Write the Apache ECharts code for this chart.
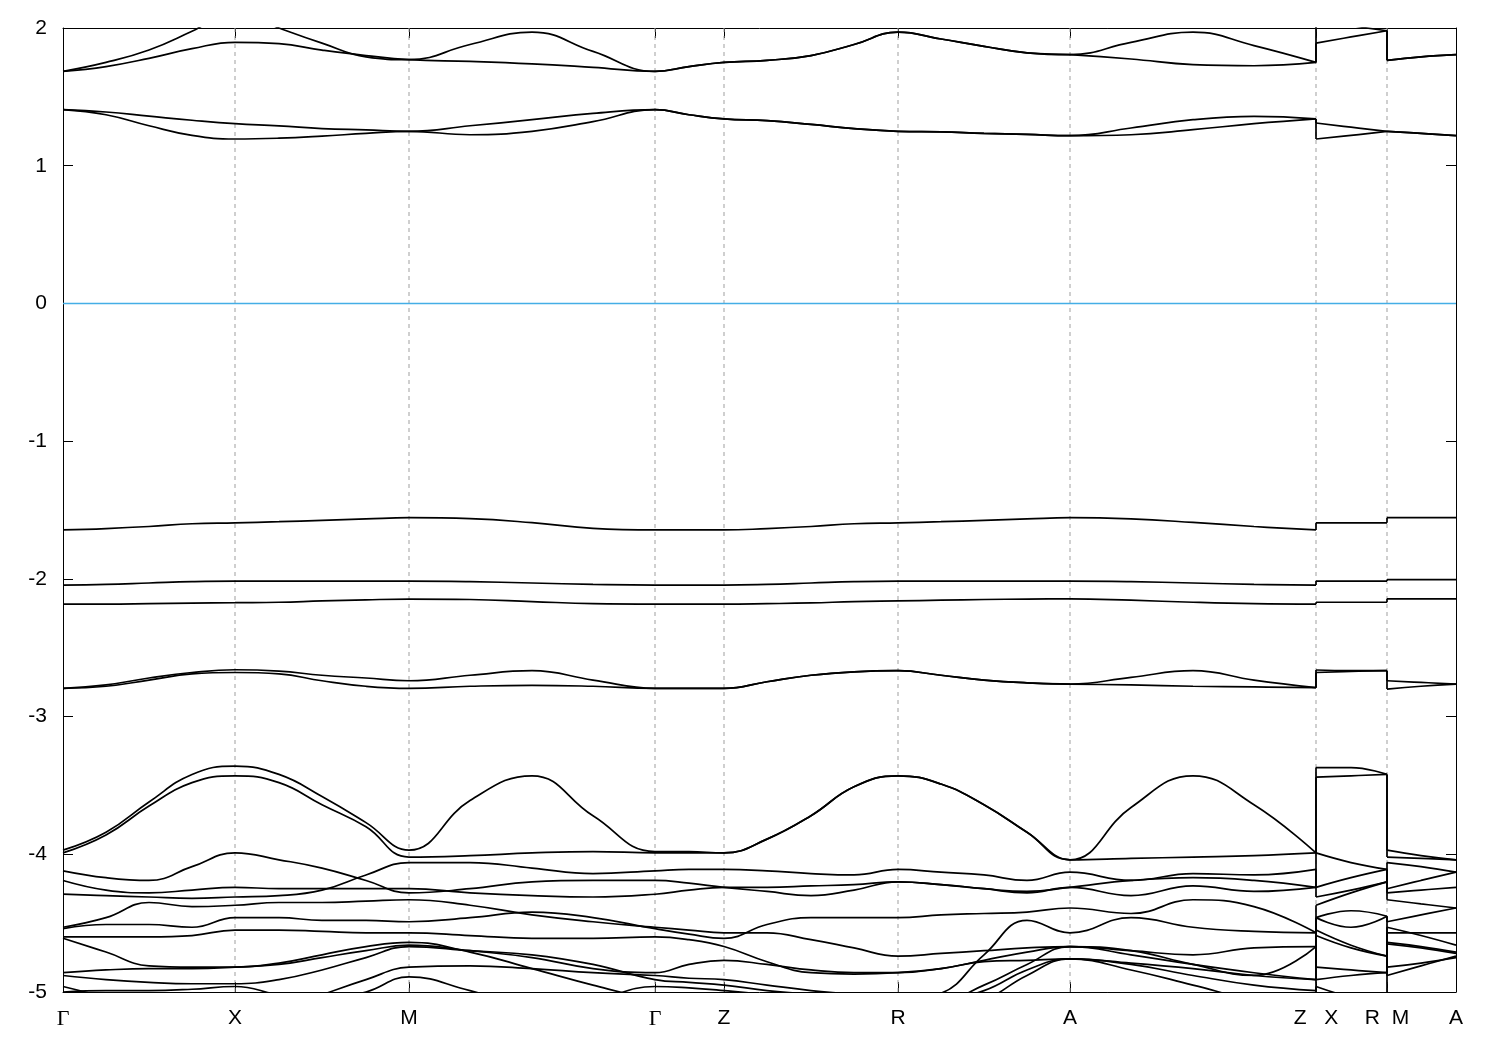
<!DOCTYPE html>
<html><head><meta charset="utf-8">
<script src="https://cdn.jsdelivr.net/npm/echarts@6/dist/echarts.min.js"></script>
<style>html,body{margin:0;padding:0;background:#fff}#chart{width:1500px;height:1050px}</style>
</head><body><div id="chart"></div>
<script>
// k-path coordinate of every sampled node (duplicates = path discontinuities Z|X and R|M)
const kNodes = [0,43,86,129,172,216,259,303,346,407,469,530,592,626,661,704,748,791,835,878,921,964,1007,1068,1130,1191,1253,1253,1288,1324,1324,1358,1393];
const tickK = [0,172,346,592,661,835,1007,1253,1324,1393];
const tickLabels = ['Γ','X','M','Γ','Z','R','A','Z   X','R  M','A'];
const energyRange = [-5, 2];
const fermiLevel = 0;

// conduction bands
const bandC4 = [1.685,1.75,1.84,1.976,2.12, 2.0,1.89,1.79,1.77, 1.88,1.97,1.83,1.685, 1.72,1.75, 1.765,1.80,1.88,1.97, 1.92,1.867,1.82,1.806, 1.896,1.97,1.872,1.75, 2.08,2.02,1.98, 1.765,1.79,1.806];
const bandC3 = [1.685,1.72,1.78,1.85,1.896, 1.886,1.84,1.80,1.77, 1.758,1.74,1.714,1.685, 1.72,1.75, 1.765,1.80,1.88,1.97, 1.92,1.867,1.82,1.806, 1.775,1.734,1.726,1.75, 1.89,1.935,1.98, 1.765,1.79,1.806];
const bandC2 = [1.407,1.39,1.36,1.33,1.305, 1.29,1.27,1.26,1.25, 1.29,1.334,1.38,1.407, 1.37,1.34, 1.327,1.30,1.27,1.25, 1.245,1.235,1.228,1.218, 1.274,1.334,1.358,1.34, 1.31,1.28,1.25, 1.25,1.235,1.218];
const bandC1 = [1.407,1.37,1.29,1.22,1.194, 1.20,1.215,1.235,1.25, 1.225,1.25,1.32,1.407, 1.37,1.34, 1.327,1.30,1.27,1.25, 1.245,1.235,1.228,1.218, 1.225,1.262,1.305,1.34, 1.194,1.22,1.25, 1.25,1.235,1.218];
// flat valence bands
const bandM1 = [-1.645,-1.635,-1.62,-1.60,-1.593, -1.585,-1.575,-1.565,-1.556, -1.563,-1.592,-1.633,-1.645, -1.645,-1.645, -1.635,-1.62,-1.60,-1.593, -1.585,-1.575,-1.565,-1.556, -1.565,-1.59,-1.62,-1.645, -1.593,-1.593,-1.593, -1.556,-1.556,-1.556];
const bandM2 = [-2.045,-2.04,-2.03,-2.02,-2.016, -2.016,-2.016,-2.016,-2.016, -2.02,-2.03,-2.04,-2.045, -2.045,-2.045, -2.04,-2.03,-2.02,-2.016, -2.016,-2.016,-2.016,-2.016, -2.02,-2.03,-2.04,-2.045, -2.016,-2.016,-2.016, -2.005,-2.005,-2.005];
const bandM3 = [-2.183,-2.183,-2.18,-2.176,-2.173, -2.17,-2.16,-2.152,-2.147, -2.15,-2.165,-2.18,-2.183, -2.183,-2.183, -2.18,-2.175,-2.165,-2.16, -2.155,-2.15,-2.147,-2.145, -2.155,-2.17,-2.18,-2.183, -2.17,-2.17,-2.17, -2.145,-2.145,-2.145];
const bandM5 = [-2.795,-2.77,-2.72,-2.68,-2.66, -2.67,-2.70,-2.72,-2.74, -2.70,-2.667,-2.735,-2.795, -2.795,-2.795, -2.747,-2.70,-2.675,-2.667, -2.70,-2.735,-2.755,-2.764, -2.715,-2.667,-2.735,-2.79, -2.662,-2.667,-2.667, -2.74,-2.752,-2.764];
const bandM4 = [-2.795,-2.78,-2.735,-2.69,-2.68, -2.69,-2.74,-2.78,-2.795, -2.78,-2.773,-2.78,-2.795, -2.795,-2.795, -2.747,-2.70,-2.675,-2.667, -2.70,-2.735,-2.755,-2.764, -2.77,-2.78,-2.785,-2.79, -2.68,-2.672,-2.667, -2.80,-2.78,-2.764];
// lower valence manifold
const bandV1 = [-3.97,-3.84,-3.62,-3.42,-3.36, -3.42,-3.58,-3.77,-3.97, -3.61,-3.43,-3.72,-3.98, -3.98,-3.99, -3.89,-3.72,-3.51,-3.43, -3.49,-3.64,-3.84,-4.04, -3.66,-3.43,-3.64,-3.99, -3.37,-3.37,-3.42, -3.97,-4.01,-4.04];
const bandV2 = [-3.99,-3.86,-3.65,-3.48,-3.43, -3.48,-3.64,-3.80,-4.02, -4.01,-3.99,-3.98,-3.99, -3.99,-3.99, -3.89,-3.72,-3.51,-3.43, -3.49,-3.64,-3.84,-4.04, -4.03,-4.02,-4.01,-3.99, -3.44,-3.43,-3.42, -4.02,-4.03,-4.04];
const bandV3 = [-4.12,-4.17,-4.19,-4.09,-3.99, -4.04,-4.10,-4.19,-4.28, -4.25,-4.20,-4.19,-4.19, -4.21,-4.24, -4.27,-4.30,-4.26,-4.20, -4.22,-4.25,-4.28,-4.24, -4.30,-4.23,-4.27,-4.24, -3.99,-4.06,-4.11, -4.25,-4.19,-4.13];
const bandV4 = [-4.19,-4.26,-4.28,-4.26,-4.24, -4.25,-4.25,-4.25,-4.25, -4.28,-4.30,-4.31,-4.29, -4.26,-4.24, -4.24,-4.23,-4.22,-4.20, -4.22,-4.25,-4.27,-4.24, -4.19,-4.17,-4.19,-4.24, -4.24,-4.17,-4.11, -4.28,-4.26,-4.24];
const bandV5 = [-4.29,-4.30,-4.31,-4.32,-4.31, -4.30,-4.26,-4.15,-4.06, -4.06,-4.10,-4.14,-4.12, -4.11,-4.11, -4.12,-4.14,-4.15,-4.11, -4.13,-4.15,-4.19,-4.13, -4.19,-4.14,-4.15,-4.11, -4.31,-4.26,-4.20, -4.06,-4.09,-4.13];
const bandV6 = [-4.53,-4.46,-4.35,-4.38,-4.37, -4.35,-4.35,-4.34,-4.33, -4.37,-4.44,-4.49,-4.53, -4.55,-4.57, -4.57,-4.62,-4.68,-4.74, -4.72,-4.70,-4.68,-4.67, -4.70,-4.73,-4.68,-4.67, -4.37,-4.28,-4.20, -4.33,-4.36,-4.39];
const bandV7 = [-4.54,-4.51,-4.51,-4.53,-4.46, -4.46,-4.48,-4.48,-4.49, -4.46,-4.42,-4.46,-4.54, -4.58,-4.61, -4.51,-4.46,-4.46,-4.46, -4.44,-4.43,-4.42,-4.39, -4.43,-4.33,-4.38,-4.57, -4.46,-4.41,-4.45, -4.49,-4.44,-4.39];
const bandV8 = [-4.60,-4.60,-4.60,-4.59,-4.55, -4.55,-4.56,-4.57,-4.57, -4.59,-4.61,-4.61,-4.60, -4.62,-4.67, -4.78,-4.86,-4.87,-4.86, -4.83,-4.78,-4.77,-4.76, -4.79,-4.83,-4.88,-4.91, -4.55,-4.66,-4.74, -4.53,-4.59,-4.66];
const bandV9 = [-4.61,-4.71,-4.81,-4.82,-4.82, -4.79,-4.73,-4.67,-4.64, -4.71,-4.83,-4.95,-5.06, -5.10,-5.13, -5.13,-5.12,-5.09,-5.06, -5.01,-4.73,-4.48,-4.57, -4.46,-4.53,-4.56,-4.57, -4.82,-4.84,-4.86, -4.57,-4.57,-4.57];
const bandV10 = [-4.86,-4.84,-4.83,-4.83,-4.82, -4.80,-4.75,-4.70,-4.66, -4.70,-4.75,-4.83,-4.86, -4.80,-4.77, -4.80,-4.84,-4.86,-4.86, -4.83,-4.77,-4.71,-4.67, -4.73,-4.80,-4.86,-4.91, -4.91,-4.88,-4.86, -4.64,-4.67,-4.71];
const bandV11 = [-4.88,-4.91,-4.93,-4.94,-4.94, -4.91,-4.84,-4.75,-4.67, -4.70,-4.73,-4.80,-4.91, -4.93,-4.95, -4.99,-5.02,-5.06,-5.09, -5.06,-4.99,-4.84,-4.76, -4.80,-4.88,-4.95,-4.99, -4.96,-5.04,-5.10, -4.65,-4.68,-4.72];
const bandV12 = [-4.96,-5.04,-5.13,-5.17,-5.20, -5.13,-5.02,-4.91,-4.82, -4.81,-4.83,-4.86,-4.88, -4.90,-4.91, -4.95,-4.99,-5.02,-5.06, -5.06,-4.95,-4.80,-4.67, -4.70,-4.80,-4.88,-4.67, -4.46,-4.53,-4.45, -4.82,-4.79,-4.75];
const bandV13 = [-5.00,-4.99,-4.99,-4.98,-4.96, -5.02,-5.06,-5.00,-4.89, -4.99,-5.10,-5.06,-4.96, -4.97,-4.99, -5.02,-5.06,-5.10,-5.13, -5.13,-5.06,-4.88,-4.76, -4.84,-4.95,-5.06,-5.13, -4.59,-4.68,-4.74, -4.88,-4.81,-4.74];

const bands = [bandC4,bandC3,bandC2,bandC1,bandM1,bandM2,bandM3,bandM5,bandM4,
  bandV1,bandV2,bandV3,bandV4,bandV5,bandV6,bandV7,bandV8,bandV9,bandV10,bandV11,bandV12,bandV13];

// continuous pieces of the path and the jumps between them
const pieces = [[0,26],[27,29],[30,32]];
const jumps = [[26,27],[29,30]];

const series = [];
// vertical dashed guides at the high-symmetry points
tickK.slice(1, -1).forEach(k => {
  series.push({type:'line', silent:true, showSymbol:false, z:1,
    data:[[k, energyRange[0]],[k, energyRange[1]]],
    lineStyle:{color:'#a0a0a0', width:1, type:[4,4]}});
});
// Fermi level
series.push({type:'line', silent:true, showSymbol:false, z:2,
  data:[[kNodes[0], fermiLevel],[kNodes[kNodes.length-1], fermiLevel]],
  lineStyle:{color:'#44aee6', width:1.4}});
bands.forEach(b => {
  pieces.forEach(([s,e]) => {
    series.push({type:'line', silent:true, showSymbol:false, z:3, clip:true,
      smooth:0.45,
      data: kNodes.slice(s, e+1).map((k,i) => [k, b[s+i]]),
      lineStyle:{color:'#000', width:1.7}});
  });
  jumps.forEach(([a,c]) => {
    series.push({type:'line', silent:true, showSymbol:false, z:3, clip:true,
      data:[[kNodes[a], b[a]],[kNodes[c], b[c]]],
      lineStyle:{color:'#000', width:1.7}});
  });
});

const labelFont = {fontFamily:'Liberation Sans, Arial, sans-serif', fontSize:21, color:'#000'};
const chart = echarts.init(document.getElementById('chart'), null, {renderer:'canvas'});
chart.setOption({
  animation:false,
  backgroundColor:'#fff',
  grid:{left:63, right:44, top:28, bottom:58, containLabel:false},
  xAxis:[{
    type:'value', min:kNodes[0], max:kNodes[kNodes.length-1], position:'bottom',
    axisLine:{show:true, onZero:false, lineStyle:{color:'#000', width:1}},
    axisTick:{show:true, inside:true, length:10, customValues:tickK, lineStyle:{color:'#000'}},
    splitLine:{show:false},
    axisLabel:Object.assign({show:true, margin:16, customValues:tickK,
      formatter: v => { const i = tickK.indexOf(v); const t = i >= 0 ? tickLabels[i] : ''; return t === 'Γ' ? '{g|Γ}' : t; },
      rich:{g:{fontFamily:'Liberation Serif, Times New Roman, serif', fontSize:22, color:'#000'}}}, labelFont)
  },{
    type:'value', min:kNodes[0], max:kNodes[kNodes.length-1], position:'top',
    axisLine:{show:true, onZero:false, lineStyle:{color:'#000', width:1}},
    axisTick:{show:true, inside:true, length:10, customValues:tickK, lineStyle:{color:'#000'}},
    splitLine:{show:false}, axisLabel:{show:false}
  }],
  yAxis:[{
    type:'value', min:energyRange[0], max:energyRange[1], interval:1, position:'left',
    axisLine:{show:true, onZero:false, lineStyle:{color:'#000', width:1}},
    axisTick:{show:true, inside:true, length:10, lineStyle:{color:'#000'}},
    splitLine:{show:false},
    axisLabel:Object.assign({margin:16}, labelFont)
  },{
    type:'value', min:energyRange[0], max:energyRange[1], interval:1, position:'right',
    axisLine:{show:true, onZero:false, lineStyle:{color:'#000', width:1}},
    axisTick:{show:true, inside:true, length:10, lineStyle:{color:'#000'}},
    splitLine:{show:false}, axisLabel:{show:false}
  }],
  series: series
});
</script></body></html>
